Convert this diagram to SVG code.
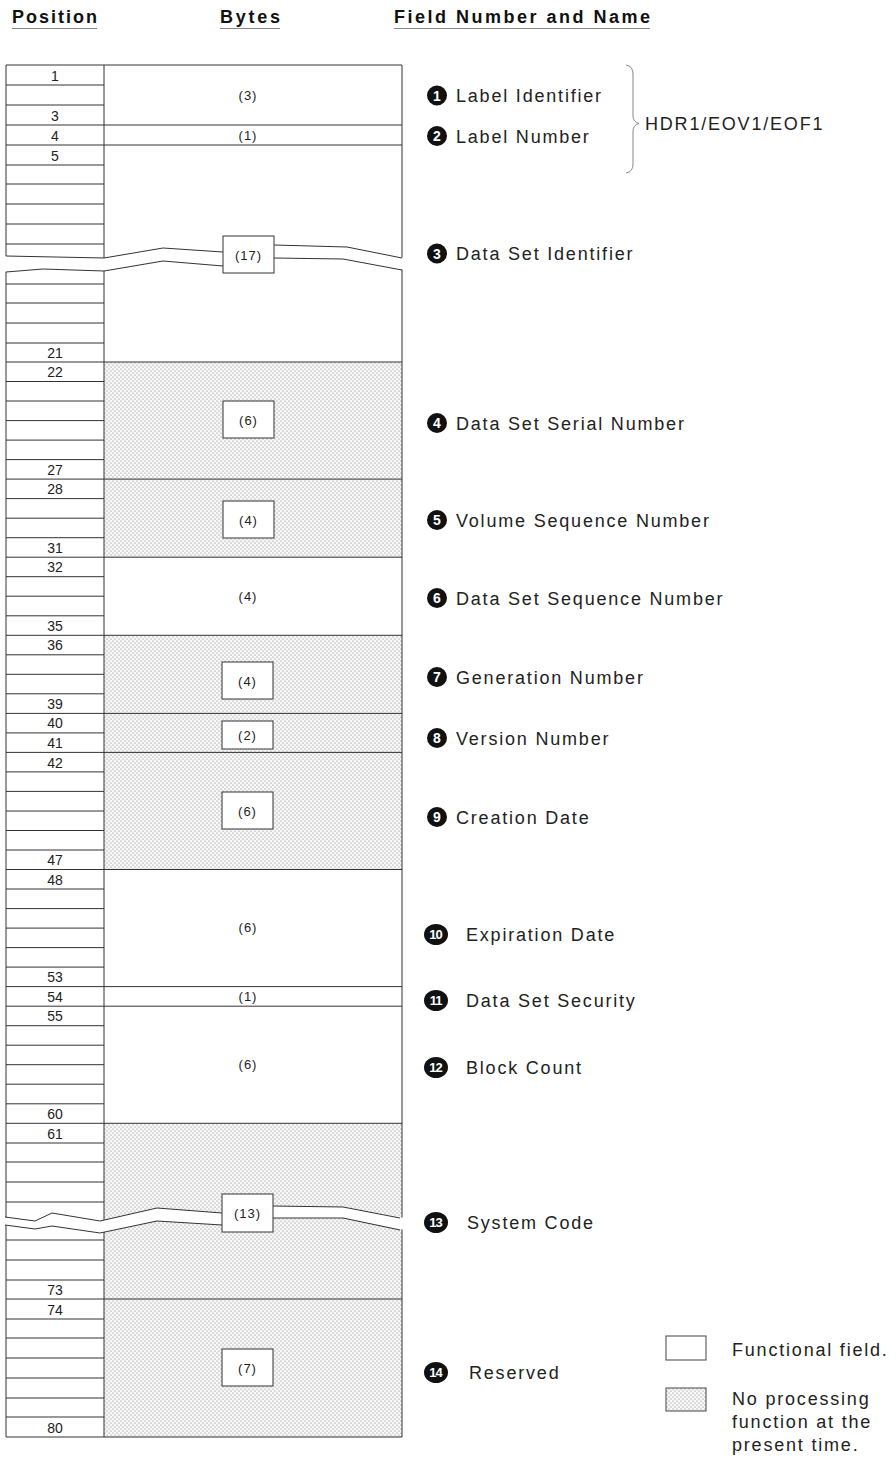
<svg xmlns="http://www.w3.org/2000/svg" width="896" height="1463" viewBox="0 0 896 1463">
<style>
.ln{stroke:#333;stroke-width:1;fill:none}
.brk{stroke:#333;stroke-width:1;fill:none;stroke-linejoin:round}
.box{fill:#fff;stroke:#333;stroke-width:1}
.pos{font-family:"Liberation Sans",Arial,sans-serif;font-size:14px;fill:#222;text-anchor:middle}
.byt{font-family:"Liberation Sans",Arial,sans-serif;font-size:13px;fill:#222;text-anchor:middle;letter-spacing:1px}
.lab{font-family:"Liberation Sans",Arial,sans-serif;font-size:18px;fill:#222;letter-spacing:1.8px}
.hdr{font-family:"Liberation Sans",Arial,sans-serif;font-size:18px;font-weight:bold;fill:#111}
.cn{fill:#111}
.ct{font-family:"Liberation Sans",Arial,sans-serif;font-size:14px;font-weight:bold;fill:#fff;text-anchor:middle}
.ct2{font-family:"Liberation Sans",Arial,sans-serif;font-size:13px;font-weight:bold;fill:#fff;text-anchor:middle;letter-spacing:-1px}
.ul{stroke:#888;stroke-width:1}
</style>
<defs>
<pattern id="dots" width="4" height="4" patternUnits="userSpaceOnUse">
<rect width="4" height="4" fill="#f8f8f8"/>
<circle cx="1" cy="1" r="0.55" fill="#777"/>
<circle cx="3" cy="3" r="0.55" fill="#777"/>
</pattern>
</defs>
<rect width="896" height="1463" fill="#fff"/>

<g id="headers">
<text class="hdr" x="12" y="23" textLength="85" lengthAdjust="spacing">Position</text>
<text class="hdr" x="220" y="23" textLength="60" lengthAdjust="spacing">Bytes</text>
<text class="hdr" x="394" y="23" textLength="256" lengthAdjust="spacing">Field Number and Name</text>
<line class="ul" x1="12" y1="28.5" x2="97" y2="28.5"/>
<line class="ul" x1="220" y1="28.5" x2="280" y2="28.5"/>
<line class="ul" x1="394" y1="28.5" x2="650" y2="28.5"/>
</g>

<g id="table">
<rect x="104" y="362" width="298" height="195.2" fill="url(#dots)"/>
<rect x="104" y="635.3" width="298" height="234.2" fill="url(#dots)"/>
<rect x="104" y="1123.3" width="298" height="313.7" fill="url(#dots)"/>
<line class="ln" x1="6" y1="65" x2="6" y2="1437"/>
<line class="ln" x1="104" y1="65" x2="104" y2="1437"/>
<line class="ln" x1="402" y1="65" x2="402" y2="1437"/>
<path class="ln" d="M6,65H402 M6,125H402 M6,145H402 M6,362H402 M6,479.1H402 M6,557.2H402 M6,635.3H402 M6,713.4H402 M6,752.4H402 M6,869.5H402 M6,986.6H402 M6,1006.2H402 M6,1123.3H402 M6,1299H402 M6,1437H402"/>
<path class="ln" d="M6,85H104 M6,105H104 M6,165H104 M6,184H104 M6,204H104 M6,224H104 M6,244H104 M6,284H104 M6,303H104 M6,323H104 M6,343H104 M6,381.5H104 M6,401H104 M6,420.6H104 M6,440.1H104 M6,459.6H104 M6,498.6H104 M6,518.2H104 M6,537.7H104 M6,576.7H104 M6,596.2H104 M6,615.8H104 M6,654.8H104 M6,674.3H104 M6,693.8H104 M6,732.9H104 M6,771.9H104 M6,791.4H104 M6,811H104 M6,830.5H104 M6,850H104 M6,889H104 M6,908.6H104 M6,928.1H104 M6,947.6H104 M6,967.1H104 M6,1025.7H104 M6,1045.2H104 M6,1064.7H104 M6,1084.2H104 M6,1103.8H104 M6,1143H104 M6,1162H104 M6,1182H104 M6,1202H104 M6,1240H104 M6,1260H104 M6,1280H104 M6,1319H104 M6,1338H104 M6,1358H104 M6,1378H104 M6,1398H104 M6,1417H104"/>
</g>

<g id="break-17">
<polygon fill="#fff" points="3,256 104,258 163,248 223,252 274,245 347,247 405,258 405,270 343,259 274,258 223,266 163,261 104,271 43,269 3,272"/>
<polyline class="brk" points="6,256 104,258 163,248 223,252"/>
<polyline class="brk" points="274,245 347,247 402,258"/>
<polyline class="brk" points="6,272 43,269 104,271 163,261 223,266"/>
<polyline class="brk" points="274,258 343,259 402,270"/>
</g>

<g id="break-13">
<polygon fill="#fff" points="3,1217 35,1221 52,1213 100,1221 157,1208 222,1213 273,1206 343,1207 405,1218 405,1230 343,1218 273,1218 222,1225 157,1221 100,1233 52,1226 35,1229 3,1225"/>
<polyline class="brk" points="5,1217 35,1221 52,1213 100,1221 157,1208 222,1213"/>
<polyline class="brk" points="273,1206 343,1207 400,1218"/>
<polyline class="brk" points="5,1225 35,1229 52,1226 100,1233 157,1221 222,1225"/>
<polyline class="brk" points="273,1218 343,1218 400,1230"/>
</g>

<g id="positions">
<text class="pos" x="55" y="80.5">1</text>
<text class="pos" x="55" y="120.5">3</text>
<text class="pos" x="55" y="140.5">4</text>
<text class="pos" x="55" y="160.5">5</text>
<text class="pos" x="55" y="357.5">21</text>
<text class="pos" x="55" y="377">22</text>
<text class="pos" x="55" y="474.6">27</text>
<text class="pos" x="55" y="494">28</text>
<text class="pos" x="55" y="552.7">31</text>
<text class="pos" x="55" y="572">32</text>
<text class="pos" x="55" y="630.8">35</text>
<text class="pos" x="55" y="650.3">36</text>
<text class="pos" x="55" y="708.9">39</text>
<text class="pos" x="55" y="728.4">40</text>
<text class="pos" x="55" y="747.9">41</text>
<text class="pos" x="55" y="767.5">42</text>
<text class="pos" x="55" y="865">47</text>
<text class="pos" x="55" y="884.5">48</text>
<text class="pos" x="55" y="982.1">53</text>
<text class="pos" x="55" y="1001.6">54</text>
<text class="pos" x="55" y="1021">55</text>
<text class="pos" x="55" y="1118.8">60</text>
<text class="pos" x="55" y="1138.5">61</text>
<text class="pos" x="55" y="1294.5">73</text>
<text class="pos" x="55" y="1314.5">74</text>
<text class="pos" x="55" y="1432.5">80</text>
</g>

<g id="bytes">
<text class="byt" x="248" y="100">(3)</text>
<text class="byt" x="248" y="140">(1)</text>
<rect class="box" x="223" y="236" width="51" height="37"/>
<text class="byt" x="248.5" y="259.5">(17)</text>
<rect class="box" x="223" y="401" width="51" height="37"/>
<text class="byt" x="248.5" y="424.5">(6)</text>
<rect class="box" x="223" y="501" width="51" height="37"/>
<text class="byt" x="248.5" y="524.5">(4)</text>
<text class="byt" x="248" y="601">(4)</text>
<rect class="box" x="222" y="662" width="51" height="37"/>
<text class="byt" x="247.5" y="685.5">(4)</text>
<rect class="box" x="222" y="721" width="51" height="28"/>
<text class="byt" x="247.5" y="740">(2)</text>
<rect class="box" x="222" y="792" width="51" height="37"/>
<text class="byt" x="247.5" y="815.5">(6)</text>
<text class="byt" x="248" y="932">(6)</text>
<text class="byt" x="248" y="1001">(1)</text>
<text class="byt" x="248" y="1069">(6)</text>
<rect class="box" x="222" y="1194" width="51" height="38"/>
<text class="byt" x="247.5" y="1217.5">(13)</text>
<rect class="box" x="222" y="1349" width="51" height="37"/>
<text class="byt" x="247.5" y="1372.5">(7)</text>
</g>

<g id="field-1"><circle class="cn" cx="437" cy="95.5" r="10"/><text class="ct" x="437" y="100.5">1</text><text class="lab" x="456" y="102">Label Identifier</text></g>
<g id="field-2"><circle class="cn" cx="437" cy="136" r="10"/><text class="ct" x="437" y="141">2</text><text class="lab" x="456" y="142.5">Label Number</text></g>
<g id="group-brace">
<path d="M626,65 Q633,66 633,74 L633,116 Q633,122 639,123.5 Q633,125 633,131 L633,164 Q633,172 626,173" fill="none" stroke="#888" stroke-width="1"/>
<text class="lab" x="645" y="130">HDR1/EOV1/EOF1</text>
</g>
<g id="field-3"><circle class="cn" cx="437" cy="253.5" r="10"/><text class="ct" x="437" y="258.5">3</text><text class="lab" x="456" y="260">Data Set Identifier</text></g>
<g id="field-4"><circle class="cn" cx="437" cy="423" r="10"/><text class="ct" x="437" y="428">4</text><text class="lab" x="456" y="429.5">Data Set Serial Number</text></g>
<g id="field-5"><circle class="cn" cx="437" cy="520" r="10"/><text class="ct" x="437" y="525">5</text><text class="lab" x="456" y="526.5">Volume Sequence Number</text></g>
<g id="field-6"><circle class="cn" cx="437" cy="598" r="10"/><text class="ct" x="437" y="603">6</text><text class="lab" x="456" y="604.5">Data Set Sequence Number</text></g>
<g id="field-7"><circle class="cn" cx="437" cy="677" r="10"/><text class="ct" x="437" y="682">7</text><text class="lab" x="456" y="683.5">Generation Number</text></g>
<g id="field-8"><circle class="cn" cx="437" cy="738" r="10"/><text class="ct" x="437" y="743">8</text><text class="lab" x="456" y="744.5">Version Number</text></g>
<g id="field-9"><circle class="cn" cx="437" cy="817" r="10"/><text class="ct" x="437" y="822">9</text><text class="lab" x="456" y="823.5">Creation Date</text></g>
<g id="field-10"><ellipse class="cn" cx="436" cy="934.5" rx="12" ry="10.5"/><text class="ct2" x="435.5" y="939">10</text><text class="lab" x="466" y="941">Expiration Date</text></g>
<g id="field-11"><ellipse class="cn" cx="436" cy="1000.5" rx="12" ry="10.5"/><text class="ct2" x="435.5" y="1005">11</text><text class="lab" x="466" y="1007">Data Set Security</text></g>
<g id="field-12"><ellipse class="cn" cx="436" cy="1067.5" rx="12" ry="10.5"/><text class="ct2" x="435.5" y="1072">12</text><text class="lab" x="466" y="1074">Block Count</text></g>
<g id="field-13"><ellipse class="cn" cx="436" cy="1222.5" rx="12" ry="10.5"/><text class="ct2" x="435.5" y="1227">13</text><text class="lab" x="467" y="1229">System Code</text></g>
<g id="field-14"><ellipse class="cn" cx="436" cy="1372.5" rx="12" ry="10.5"/><text class="ct2" x="435.5" y="1377">14</text><text class="lab" x="469" y="1379">Reserved</text></g>

<g id="legend">
<rect x="666" y="1336" width="40" height="24" fill="#fff" stroke="#444" stroke-width="1"/>
<text class="lab" x="732" y="1356">Functional field.</text>
<rect x="666" y="1388" width="40" height="23" fill="url(#dots)" stroke="#444" stroke-width="1"/>
<text class="lab" x="732" y="1405">No processing</text>
<text class="lab" x="732" y="1428">function at the</text>
<text class="lab" x="732" y="1451">present time.</text>
</g>
</svg>
